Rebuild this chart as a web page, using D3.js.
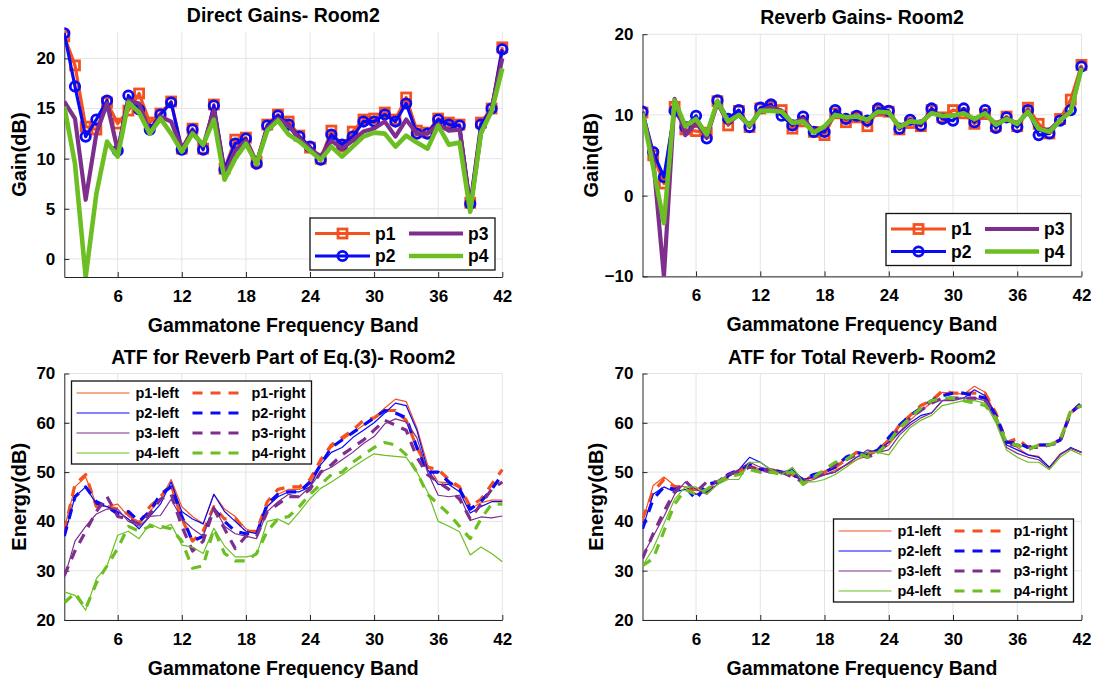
<!DOCTYPE html>
<html>
<head>
<meta charset="utf-8">
<script src="https://cdn.jsdelivr.net/npm/d3@7"></script>
<style>
  body { margin: 0; background: #fff; }
  text { font-family: 'Liberation Sans', Arial, sans-serif; font-weight: bold; fill: #000; }
</style>
</head>
<body>
<script>
const bands = [1, 2, 3, 4, 5, 6, 7, 8, 9, 10, 11, 12, 13, 14, 15, 16, 17, 18, 19, 20, 21,
  22, 23, 24, 25, 26, 27, 28, 29, 30, 31, 32, 33, 34, 35, 36, 37, 38, 39, 40, 41, 42]
const xTicks = [6, 12, 18, 24, 30, 36, 42]

// Direct gains (dB)
const directP1 = [22.2, 19.3, 13.2, 12.9, 15.6, 13.5, 14.8, 16.5, 13.6, 14.5, 15.7, 11.0, 13.0, 11.0, 15.4, 9.0, 11.9, 12.1, 9.7, 13.4, 14.4,
  13.7, 12.3, 11.1, 10.0, 12.8, 11.2, 12.7, 13.9, 14.0, 14.6, 13.9, 16.1, 12.8, 12.6, 14.0, 13.6, 13.4, 5.6, 13.6, 15.0, 21.1]
const directP2 = [22.5, 17.2, 12.2, 13.9, 15.8, 10.8, 16.3, 14.9, 12.9, 14.4, 15.6, 10.9, 12.9, 10.9, 15.3, 8.9, 11.5, 12.0, 9.5, 13.3, 14.3,
  13.4, 12.2, 11.2, 9.9, 12.4, 11.4, 12.2, 13.7, 13.7, 14.4, 13.7, 15.5, 12.5, 12.5, 13.9, 13.4, 13.3, 5.5, 13.4, 15.0, 20.9]
const directP3 = [15.7, 14.0, 5.9, 12.5, 15.5, 10.8, 15.8, 15.5, 12.6, 14.2, 13.7, 11.0, 12.6, 11.3, 14.8, 8.5, 10.8, 11.8, 9.6, 13.0, 14.0,
  13.3, 12.0, 11.0, 10.2, 11.8, 11.0, 11.8, 12.7, 13.0, 13.7, 12.2, 13.9, 12.5, 12.5, 13.4, 12.8, 12.9, 5.0, 12.5, 15.0, 20.0]
const directP4 = [15.2, 9.5, -1.8, 6.5, 11.7, 10.2, 15.6, 14.6, 12.5, 14.0, 12.5, 10.7, 12.5, 11.4, 13.9, 7.9, 10.0, 11.5, 9.5, 12.8, 13.8,
  12.4, 11.7, 10.8, 9.9, 11.2, 10.2, 11.2, 12.2, 12.6, 12.5, 11.2, 12.3, 11.6, 11.0, 13.3, 11.4, 11.6, 4.7, 12.6, 14.7, 19.0]

// Reverb gains (dB)
const reverbP1 = [10.3, 5.0, 1.5, 11.0, 8.2, 8.0, 7.8, 11.7, 8.7, 10.5, 8.5, 10.8, 11.0, 10.6, 8.3, 9.2, 7.9, 7.5, 10.2, 9.1, 9.7,
  8.6, 10.5, 10.4, 8.2, 9.0, 8.6, 10.6, 9.7, 10.6, 10.2, 8.9, 10.1, 8.6, 9.8, 8.6, 10.9, 8.9, 7.7, 9.5, 11.9, 16.2]
const reverbP2 = [10.4, 5.4, 2.3, 10.5, 8.5, 9.9, 7.1, 11.8, 9.5, 10.6, 8.5, 10.9, 11.3, 9.9, 8.7, 9.8, 7.9, 7.9, 10.6, 9.5, 9.9,
  9.3, 10.8, 10.5, 8.3, 9.4, 8.7, 10.8, 9.5, 9.3, 10.8, 9.1, 10.6, 8.4, 9.7, 8.5, 10.6, 7.5, 7.7, 9.3, 10.6, 16.0]
const reverbP3 = [10.4, 4.5, -10.0, 12.0, 7.5, 9.0, 7.3, 11.5, 9.0, 10.0, 8.6, 10.5, 11.0, 10.5, 9.0, 9.5, 8.0, 8.4, 10.0, 9.7, 9.8,
  9.4, 10.3, 10.2, 8.6, 9.2, 9.0, 10.3, 9.8, 9.9, 10.2, 9.4, 10.1, 8.9, 9.6, 8.9, 10.4, 8.3, 8.1, 9.4, 10.5, 16.0]
const reverbP4 = [10.2, 3.5, -3.4, 11.8, 8.6, 9.5, 7.6, 11.7, 9.2, 10.0, 8.7, 10.5, 10.5, 10.4, 9.0, 9.2, 7.8, 8.6, 10.0, 9.7, 9.8,
  9.4, 10.4, 10.3, 8.5, 9.2, 9.1, 10.2, 9.9, 9.9, 10.2, 9.5, 10.2, 8.8, 9.5, 8.9, 10.4, 8.3, 7.9, 9.3, 10.4, 15.8]

// ATF for reverb part of Eq.(3), energy (dB)
const partP1L = [38.5, 47, 49, 43.5, 43, 43.5, 41, 40, 42, 44.5, 48.5, 43, 41, 39.5, 45.5, 42.5, 41, 38.5, 37.5, 43, 45.5,
  46.5, 46.5, 47.5, 52, 55, 56.5, 58, 59.5, 61, 63, 64.8, 64.3, 59, 51.5, 48, 47.8, 46.8, 42.5, 43.8, 44.3, 44.3]
const partP1R = [38, 47.5, 49.5, 43, 43, 42.5, 41.5, 39.5, 43, 45, 47.5, 40.5, 36, 38, 43, 40.5, 40.5, 38, 38, 44, 46.5,
  47, 47, 48.5, 52.5, 55.5, 57, 58.5, 60.5, 61, 62.5, 62.5, 60.5, 55, 51, 50.5, 48.5, 47, 43, 44.5, 47.5, 50.5]
const partP2L = [37, 45, 47, 43.5, 43, 42, 40.5, 38.5, 41, 43.5, 48, 42, 40.5, 39.5, 45.5, 42, 40, 38, 37.5, 43, 45,
  46, 46, 47, 51.5, 54, 55, 57, 58.5, 60, 62, 64, 63.5, 58.5, 50.5, 47.5, 47.5, 46, 41.7, 43, 44, 44]
const partP2R = [37, 45, 47, 44, 43, 41.5, 42, 40, 42, 45.5, 47, 41, 36, 37, 42.5, 40, 38, 37.5, 37.5, 43.5, 45.5,
  46, 46, 48, 51.5, 55, 56.5, 58, 59.5, 61, 62.5, 62, 61, 55, 50, 50, 48, 46.5, 42.5, 44, 46.5, 49.5]
const partP3L = [28.5, 36, 39, 41.5, 42.5, 42.5, 40, 39, 41, 41.2, 44.5, 40.5, 38.5, 37, 43, 39, 37.5, 37, 36.5, 42, 44,
  45.5, 45, 47, 50, 51, 52.5, 54, 55.8, 57.2, 59.8, 60.8, 60.2, 57, 50, 45.3, 45, 45.3, 40.2, 40.9, 40.7, 41.1]
const partP3R = [29, 34, 38, 42, 45, 41, 40.5, 39.5, 41.5, 44.5, 45.5, 39, 34, 36, 42.5, 38.5, 34.5, 37, 37, 42, 43.5,
  45, 45, 46.5, 50, 51.5, 53.5, 55, 56.5, 58.5, 60.5, 59.5, 58.5, 53, 49.5, 48, 46.5, 44.5, 40.5, 43.5, 46.5, 48]
const partP4L = [25.7, 25, 22, 28.4, 31, 37.2, 38, 36.5, 39.5, 38.5, 39.4, 35.2, 34.8, 33.5, 38.6, 35, 32.8, 32.8, 33.2, 40, 40.5,
  39.4, 41.9, 44.6, 46.7, 48, 49.4, 51, 52.4, 53.7, 53.4, 53.2, 53, 50, 46, 40, 39, 37.9, 33.2, 34.8, 33.5, 31.8]
const partP4R = [23.5, 25.5, 22.3, 27.5, 31, 34.5, 39, 38, 39, 39, 38.5, 36, 30.5, 31, 38.5, 33.5, 32, 32, 33.5, 38, 40.5,
  41, 43, 45.5, 47.5, 49.5, 50, 52, 53.5, 55, 56, 55.5, 53.5, 50, 45.5, 43.5, 41.5, 39, 36.5, 40.5, 43.5, 43.5]

// ATF for total reverb, energy (dB)
const totalP1L = [40, 47.3, 49, 47.3, 47, 45.5, 46.5, 48, 49.5, 50.3, 51.5, 50.5, 50, 50, 50, 48.7, 48.7, 49.4, 50.4, 51.4, 52.5,
  53.3, 54.2, 55.5, 58.2, 60.5, 62.5, 64, 66.2, 66, 65.8, 67.4, 66.2, 61.5, 56, 55, 53.5, 53.2, 50.9, 53.7, 54.8, 54]
const totalP1R = [40.5, 46, 48.5, 47, 46.5, 46.5, 46, 48, 49, 50, 51, 50, 50.5, 50, 49.5, 48, 49.5, 50, 51, 52.5, 54,
  53.5, 54.5, 56.5, 59.5, 61.5, 63.5, 64.5, 66.5, 66, 66, 66, 66, 62, 56, 56.8, 55, 55.5, 55.5, 56.5, 62, 64]
const totalP2L = [38.5, 45.5, 47, 46, 46.5, 45.5, 46, 47.5, 49, 50.5, 53, 52, 50.5, 50, 50.5, 48.5, 49, 49.5, 50, 51.5, 53,
  54, 54.5, 56, 58, 60, 61.5, 62, 64.5, 65, 65, 66.7, 65.5, 61.5, 55.5, 54.5, 53.5, 53, 51, 53.5, 55, 54]
const totalP2R = [38.5, 44.5, 47, 46.5, 47, 44.5, 47.5, 48, 49.5, 50.5, 51.5, 50.5, 50.5, 50, 49.5, 48.5, 49.5, 50, 51, 53, 54,
  53.5, 54.5, 57, 59.5, 61.5, 63, 64.5, 65.5, 66, 66, 65.5, 65, 61.5, 56, 56, 55, 55.5, 55.5, 56.5, 62, 64]
const totalP3L = [33, 37, 41, 45.5, 48, 46.5, 45.5, 47.5, 49.5, 50.5, 52, 51, 50.5, 50, 50, 48, 48.5, 49.5, 50, 51.5, 53,
  54.5, 54, 54.5, 57.5, 59.5, 61, 62, 64.5, 64.5, 65, 65, 64.5, 60.5, 55, 53.8, 53, 52.5, 50.8, 53.5, 54.8, 54]
const totalP3R = [32.5, 37.5, 42, 46, 48.2, 46, 48, 48, 49.5, 50, 51, 50.5, 50, 50, 49, 48, 49, 50, 51.5, 52.5, 53.5,
  53, 54, 56, 59, 61, 62.5, 64, 65, 65, 65, 65, 64.5, 61, 55.5, 55.5, 55, 55, 55.5, 56, 62.5, 63.5]
const totalP4L = [31, 34.5, 39.5, 44.5, 47, 47, 45.5, 47.5, 48.5, 48.5, 52, 52, 50.5, 49.5, 51, 48, 48, 48.5, 49.5, 51, 52.5,
  54, 54, 53.5, 56.5, 59, 60.5, 61.5, 63.5, 64, 64.5, 64.5, 64, 60, 54.5, 53, 52, 52, 50.5, 53, 54.5, 53.5]
const totalP4R = [31, 32.5, 38, 43.5, 46.5, 45.5, 46.5, 48, 49, 49.5, 50.5, 50, 50, 49.5, 50, 47.5, 49, 50.5, 52, 52.5, 54,
  53, 54, 56, 59, 61, 63, 64.5, 65, 65, 64.5, 64, 63.5, 61, 56, 55.5, 54.5, 55.5, 55.5, 56.5, 62.5, 63.5]

const colors = {p1: '#f4511e', p2: '#0a0af5', p3: '#7e2f8e', p4: '#6cbf22'}

const svg = d3.select('body').append('svg')
  .attr('width', 1094)
  .attr('height', 678)

svg.append('rect').attr('width', 1094).attr('height', 678).attr('fill', '#fff')

function panel(cfg) {
  const x = d3.scaleLinear().domain([1, 42]).range([cfg.left, cfg.right])
  const y = d3.scaleLinear().domain(cfg.yDomain).range([cfg.bottom, cfg.top])
  const g = svg.append('g')

  // grid
  g.append('g').selectAll('line')
    .data(xTicks)
    .enter()
    .append('line')
    .attr('x1', d => x(d)).attr('x2', d => x(d))
    .attr('y1', cfg.top).attr('y2', cfg.bottom)
    .attr('stroke', '#e4e4e4').attr('stroke-width', 1)
  g.append('g').selectAll('line')
    .data(cfg.yTicks)
    .enter()
    .append('line')
    .attr('x1', cfg.left).attr('x2', cfg.right)
    .attr('y1', d => y(d)).attr('y2', d => y(d))
    .attr('stroke', '#e4e4e4').attr('stroke-width', 1)

  // axes
  const xAxis = d3.axisBottom(x).tickValues(xTicks).tickSizeInner(-5).tickSizeOuter(0).tickPadding(13)
  const yAxis = d3.axisLeft(y).tickValues(cfg.yTicks).tickSizeInner(-5).tickSizeOuter(0).tickPadding(9)
  const gx = g.append('g')
    .attr('transform', `translate(0, ${cfg.bottom})`)
    .call(xAxis)
  const gy = g.append('g')
    .attr('transform', `translate(${cfg.left}, 0)`)
    .call(yAxis)
  for (const a of [gx, gy]) {
    a.select('.domain').attr('stroke', '#262626')
    a.selectAll('.tick line').attr('stroke', '#262626')
    a.selectAll('.tick text')
      .style('font-family', "'Liberation Sans', Arial, sans-serif")
      .style('font-weight', 'bold')
      .style('font-size', '17px')
      .attr('fill', '#000')
  }

  // labels
  const cx = (cfg.left + cfg.right) / 2
  g.append('text')
    .attr('x', cx).attr('y', cfg.top - 10)
    .attr('text-anchor', 'middle')
    .style('font-size', '19.5px')
    .text(cfg.title)
  g.append('text')
    .attr('x', cx).attr('y', cfg.bottom + 55)
    .attr('text-anchor', 'middle')
    .style('font-size', '19.5px')
    .text('Gammatone Frequency Band')
  g.append('text')
    .attr('transform', `translate(${cfg.ylabelX}, ${(cfg.top + cfg.bottom) / 2}) rotate(-90)`)
    .attr('text-anchor', 'middle')
    .style('font-size', '20px')
    .text(cfg.ylabel)

  // clip
  const clipId = 'clip' + cfg.id
  svg.append('clipPath').attr('id', clipId)
    .append('rect')
    .attr('x', cfg.left).attr('y', cfg.top - 8)
    .attr('width', cfg.right - cfg.left + 8).attr('height', cfg.bottom - cfg.top + 8)

  const plot = g.append('g').attr('clip-path', `url(#${clipId})`)
  const line = d3.line().x((d, i) => x(bands[i])).y(d => y(d))

  cfg.series.forEach(s => {
    plot.append('path')
      .attr('d', line(s.values))
      .attr('fill', 'none')
      .attr('stroke', s.color)
      .attr('stroke-width', s.width)
      .attr('stroke-dasharray', s.dash || null)
      .attr('stroke-linejoin', 'round')
    if (s.marker === 'square') {
      plot.append('g').selectAll('rect')
        .data(s.values)
        .enter()
        .append('rect')
        .attr('x', (d, i) => x(bands[i]) - 4.5)
        .attr('y', d => y(d) - 4.5)
        .attr('width', 9).attr('height', 9)
        .attr('fill', 'none')
        .attr('stroke', s.color)
        .attr('stroke-width', 2.8)
    } else if (s.marker === 'circle') {
      plot.append('g').selectAll('circle')
        .data(s.values)
        .enter()
        .append('circle')
        .attr('cx', (d, i) => x(bands[i]))
        .attr('cy', d => y(d))
        .attr('r', 4.7)
        .attr('fill', 'none')
        .attr('stroke', s.color)
        .attr('stroke-width', 2.8)
    }
  })

  // legend
  const L = cfg.legend
  const lg = g.append('g')
  lg.append('rect')
    .attr('x', L.x).attr('y', L.y).attr('width', L.w).attr('height', L.h)
    .attr('fill', '#fff').attr('stroke', '#111').attr('stroke-width', 1.3)
  L.items.forEach(it => {
    lg.append('line')
      .attr('x1', it.x1).attr('x2', it.x2).attr('y1', it.y).attr('y2', it.y)
      .attr('stroke', it.s.color).attr('stroke-width', it.s.width)
      .attr('stroke-dasharray', it.s.dash || null)
    const mx = (it.x1 + it.x2) / 2
    if (it.s.marker === 'square') {
      lg.append('rect').attr('x', mx - 4.5).attr('y', it.y - 4.5).attr('width', 9).attr('height', 9)
        .attr('fill', 'none').attr('stroke', it.s.color).attr('stroke-width', 2.8)
    } else if (it.s.marker === 'circle') {
      lg.append('circle').attr('cx', mx).attr('cy', it.y).attr('r', 4.7)
        .attr('fill', 'none').attr('stroke', it.s.color).attr('stroke-width', 2.8)
    }
    lg.append('text')
      .attr('x', it.tx).attr('y', it.y + L.fs * 0.36)
      .style('font-size', L.fs + 'px')
      .text(it.s.name)
  })
}

const gainSeries = (p1, p2, p3, p4) => [
  {name: 'p1', values: p1, color: colors.p1, width: 3.2, marker: 'square'},
  {name: 'p2', values: p2, color: colors.p2, width: 3.2, marker: 'circle'},
  {name: 'p3', values: p3, color: colors.p3, width: 4.2},
  {name: 'p4', values: p4, color: colors.p4, width: 4.6}
]

const atfSeries = (a) => [
  {name: 'p1-left', values: a[0], color: colors.p1, width: 1.2},
  {name: 'p1-right', values: a[1], color: colors.p1, width: 3.2, dash: '10,8'},
  {name: 'p2-left', values: a[2], color: colors.p2, width: 1.2},
  {name: 'p2-right', values: a[3], color: colors.p2, width: 3.2, dash: '10,8'},
  {name: 'p3-left', values: a[4], color: colors.p3, width: 1.2},
  {name: 'p3-right', values: a[5], color: colors.p3, width: 3.2, dash: '10,8'},
  {name: 'p4-left', values: a[6], color: colors.p4, width: 1.2},
  {name: 'p4-right', values: a[7], color: colors.p4, width: 3.2, dash: '10,8'}
]

function gainLegend(s, x0, y0) {
  return {
    x: x0, y: y0, w: 185, h: 52, fs: 17.5,
    items: [
      {s: s[0], x1: x0 + 5, x2: x0 + 60, y: y0 + 15.5, tx: x0 + 65},
      {s: s[1], x1: x0 + 5, x2: x0 + 60, y: y0 + 38, tx: x0 + 65},
      {s: s[2], x1: x0 + 99, x2: x0 + 153, y: y0 + 15.5, tx: x0 + 158},
      {s: s[3], x1: x0 + 99, x2: x0 + 153, y: y0 + 38, tx: x0 + 158}
    ]
  }
}

function atfLegend(s, x0, y0) {
  const items = []
  for (let k = 0; k < 4; k++) {
    const yy = y0 + 12 + k * 20
    items.push({s: s[2 * k], x1: x0 + 5, x2: x0 + 58, y: yy, tx: x0 + 64})
    items.push({s: s[2 * k + 1], x1: x0 + 121, x2: x0 + 175, y: yy, tx: x0 + 180})
  }
  return {x: x0, y: y0, w: 240, h: 83, fs: 14.5, items: items}
}

const s1 = gainSeries(directP1, directP2, directP3, directP4)
panel({
  id: 1, left: 64.3, right: 502.3, top: 32.3, bottom: 277,
  yDomain: [-1.8, 22.6], yTicks: [0, 5, 10, 15, 20],
  title: 'Direct Gains- Room2', ylabel: 'Gain(dB)', ylabelX: 26,
  series: s1, legend: gainLegend(s1, 310, 218)
})

const s2 = gainSeries(reverbP1, reverbP2, reverbP3, reverbP4)
panel({
  id: 2, left: 642.5, right: 1081.5, top: 34.2, bottom: 276.4,
  yDomain: [-10, 20], yTicks: [-10, 0, 10, 20],
  title: 'Reverb Gains- Room2', ylabel: 'Gain(dB)', ylabelX: 598,
  series: s2, legend: gainLegend(s2, 886, 213.5)
})

const s3 = atfSeries([partP1L, partP1R, partP2L, partP2R, partP3L, partP3R, partP4L, partP4R])
panel({
  id: 3, left: 64.3, right: 502.3, top: 373.5, bottom: 620,
  yDomain: [20, 70], yTicks: [20, 30, 40, 50, 60, 70],
  title: 'ATF for Reverb Part of Eq.(3)- Room2', ylabel: 'Energy(dB)', ylabelX: 26,
  series: s3, legend: atfLegend(s3, 71.5, 381)
})

const s4 = atfSeries([totalP1L, totalP1R, totalP2L, totalP2R, totalP3L, totalP3R, totalP4L, totalP4R])
panel({
  id: 4, left: 642.5, right: 1081.5, top: 373.5, bottom: 620,
  yDomain: [20, 70], yTicks: [20, 30, 40, 50, 60, 70],
  title: 'ATF for Total Reverb- Room2', ylabel: 'Energy(dB)', ylabelX: 603,
  series: s4, legend: atfLegend(s4, 833.5, 519)
})
</script>
</body>
</html>
